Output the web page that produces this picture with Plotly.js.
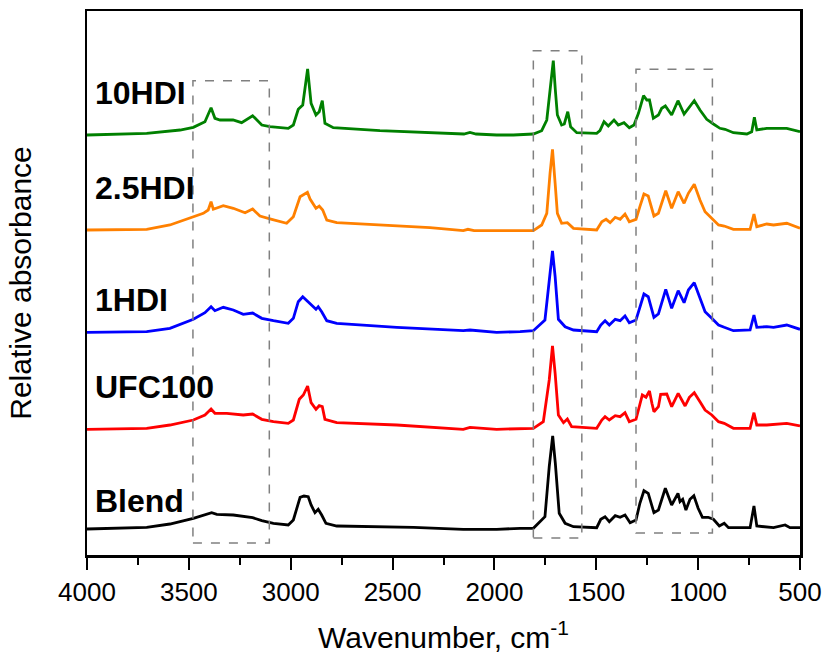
<!DOCTYPE html>
<html>
<head>
<meta charset="utf-8">
<script src="https://cdn.plot.ly/plotly-3.0.1.min.js"></script>
<style>
  html, body { margin: 0; padding: 0; background: #fff; }
  #chart { width: 825px; height: 654px; }
</style>
</head>
<body>
<div id="chart"></div>
<script>
// ---- data ----
const seriesNames = ["Blend", "UFC100", "1HDI", "2.5HDI", "10HDI"];
const offsets = [0, 1, 2, 3, 4];

const wnBlend = [4000,3707,3593,3478,3388,3363,3282,3187,3142,3085,3012,2987,2954,2935,2914,2900,2881,2865,2848,2827,2774,2397,2153,1989,1874,1809,1752,1731,1714,1701,1682,1653,1612,1498,1478,1457,1436,1407,1383,1359,1334,1305,1286,1266,1245,1217,1195,1161,1130,1099,1089,1076,1060,1040,1021,1000,979,951,925,896,872,851,745,726,712,630,573,549,500];
const absBlend = [0.26,0.277,0.31,0.367,0.423,0.407,0.40,0.373,0.343,0.317,0.30,0.35,0.577,0.59,0.583,0.50,0.423,0.457,0.40,0.317,0.29,0.277,0.257,0.257,0.267,0.267,0.383,0.883,1.19,0.917,0.417,0.317,0.283,0.273,0.357,0.383,0.333,0.393,0.377,0.40,0.323,0.35,0.517,0.643,0.617,0.423,0.45,0.667,0.50,0.617,0.533,0.557,0.45,0.557,0.593,0.467,0.377,0.377,0.357,0.29,0.317,0.273,0.273,0.49,0.29,0.273,0.30,0.273,0.273];

const wnUFC100 = [4000,3707,3593,3478,3421,3391,3372,3314,3233,3187,3142,3085,3012,2987,2958,2938,2917,2900,2876,2860,2845,2832,2774,2479,2153,2120,1989,1874,1809,1760,1731,1715,1702,1686,1661,1642,1621,1498,1473,1457,1436,1407,1383,1359,1338,1305,1286,1274,1256,1239,1227,1217,1195,1184,1154,1130,1098,1064,1043,1019,991,966,933,900,872,827,745,726,712,663,565,500];
const absUFC100 = [0.257,0.267,0.30,0.35,0.40,0.46,0.417,0.417,0.40,0.41,0.357,0.333,0.317,0.35,0.557,0.60,0.69,0.523,0.457,0.493,0.483,0.357,0.323,0.30,0.257,0.277,0.257,0.267,0.267,0.333,0.75,1.09,0.817,0.40,0.323,0.36,0.283,0.267,0.35,0.383,0.35,0.393,0.383,0.423,0.333,0.357,0.517,0.60,0.577,0.64,0.517,0.433,0.483,0.607,0.61,0.483,0.617,0.49,0.577,0.623,0.533,0.45,0.40,0.333,0.317,0.267,0.267,0.423,0.30,0.30,0.317,0.29];

const wn1HDI = [4000,3707,3593,3478,3421,3391,3372,3331,3282,3233,3187,3142,3085,3012,2987,2963,2941,2914,2889,2876,2865,2848,2823,2774,2479,2153,2120,1989,1874,1809,1752,1731,1715,1702,1686,1653,1612,1498,1478,1457,1436,1407,1383,1359,1338,1305,1286,1266,1245,1217,1195,1159,1130,1098,1069,1048,1019,991,966,933,900,872,827,745,726,712,663,630,565,500];
const abs1HDI = [0.227,0.233,0.267,0.357,0.423,0.483,0.443,0.477,0.45,0.407,0.42,0.367,0.343,0.317,0.367,0.533,0.583,0.533,0.483,0.457,0.483,0.433,0.343,0.317,0.277,0.243,0.25,0.227,0.233,0.243,0.35,0.75,1.04,0.783,0.357,0.283,0.25,0.233,0.30,0.343,0.30,0.357,0.343,0.39,0.323,0.35,0.483,0.61,0.583,0.377,0.41,0.657,0.467,0.643,0.523,0.65,0.723,0.567,0.433,0.367,0.30,0.277,0.243,0.25,0.40,0.277,0.283,0.277,0.30,0.257];

const wn25HDI = [4000,3707,3593,3478,3429,3405,3391,3380,3331,3282,3224,3187,3151,3093,3020,2987,2954,2918,2905,2876,2860,2843,2823,2774,2562,2316,2153,2130,2100,1989,1874,1809,1768,1743,1727,1715,1702,1691,1670,1642,1612,1498,1473,1452,1432,1407,1383,1359,1338,1305,1286,1266,1245,1217,1195,1159,1130,1098,1069,1048,1019,991,966,933,900,872,827,745,726,712,663,630,565,500];
const abs25HDI = [0.25,0.257,0.30,0.377,0.417,0.45,0.533,0.457,0.493,0.467,0.423,0.46,0.39,0.357,0.317,0.383,0.583,0.627,0.56,0.467,0.49,0.45,0.35,0.323,0.30,0.273,0.243,0.257,0.243,0.243,0.243,0.243,0.30,0.417,0.817,1.057,0.717,0.417,0.317,0.323,0.267,0.25,0.333,0.357,0.323,0.377,0.357,0.41,0.333,0.357,0.483,0.61,0.59,0.39,0.417,0.643,0.467,0.633,0.517,0.617,0.707,0.55,0.433,0.367,0.30,0.29,0.257,0.257,0.41,0.283,0.31,0.30,0.317,0.267];

const wn10HDI = [4000,3707,3543,3478,3421,3391,3372,3347,3283,3241,3187,3142,3102,3012,2987,2963,2941,2917,2900,2876,2860,2845,2832,2791,2562,2234,2150,2120,2090,1989,1907,1809,1768,1743,1727,1711,1701,1691,1670,1657,1640,1626,1596,1498,1482,1462,1441,1413,1392,1364,1338,1315,1293,1268,1252,1239,1220,1195,1179,1161,1130,1099,1069,1048,1019,991,958,925,893,868,827,761,737,724,712,663,565,500];
const abs10HDI = [0.20,0.217,0.25,0.277,0.333,0.473,0.367,0.35,0.35,0.323,0.393,0.30,0.283,0.267,0.30,0.457,0.50,0.86,0.517,0.40,0.433,0.543,0.317,0.273,0.243,0.217,0.21,0.225,0.21,0.20,0.20,0.21,0.243,0.35,0.683,0.943,0.65,0.40,0.30,0.31,0.433,0.283,0.223,0.217,0.243,0.333,0.29,0.35,0.30,0.323,0.273,0.30,0.417,0.593,0.55,0.55,0.367,0.40,0.467,0.49,0.40,0.543,0.41,0.467,0.543,0.45,0.357,0.31,0.267,0.257,0.223,0.21,0.233,0.377,0.25,0.267,0.267,0.233];

// highlighted regions: [wnStart, wnEnd, yBottom, yTop]
const boxes = [[3480, 3105, 0.12, 4.743], [1809, 1571, 0.17, 5.043], [1305, 930, 0.22, 4.857]];
const xTickVals = [4000, 3500, 3000, 2500, 2000, 1500, 1000, 500];

// ---- build chart ----
const wnAll = [wnBlend, wnUFC100, wn1HDI, wn25HDI, wn10HDI];
const absAll = [absBlend, absUFC100, abs1HDI, abs25HDI, abs10HDI];
const colors = ["#000000", "#ff0000", "#0000ff", "#ff8000", "#008000"];
const labelY = [0.54, 1.68, 2.55, 3.67, 4.62];

const traces = seriesNames.map((name, i) => ({
  type: "scatter",
  mode: "lines",
  name: name,
  x: wnAll[i],
  y: absAll[i].map(v => v + offsets[i]),
  line: { color: colors[i], width: 2.8 },
  showlegend: false,
  hoverinfo: "x+name"
}));

const FONT = "Liberation Sans, Arial, Helvetica, sans-serif";

const shapes = boxes.map(b => ({
  type: "rect", xref: "x", yref: "y",
  x0: b[0], x1: b[1], y0: b[2], y1: b[3],
  line: { color: "#808080", width: 1.5, dash: "dash" },
  fillcolor: "rgba(0,0,0,0)"
}));

const annotations = seriesNames.map((name, i) => ({
  xref: "x", yref: "y",
  x: 3972, y: labelY[i],
  xanchor: "left", yanchor: "middle",
  text: "<b>" + name + "</b>",
  showarrow: false,
  font: { family: FONT, size: 32, color: "#000" }
}));

const layout = {
  width: 825, height: 654,
  margin: { l: 87, r: 25, t: 11, b: 99 },
  paper_bgcolor: "#fff", plot_bgcolor: "#fff",
  font: { family: FONT, color: "#000" },
  xaxis: {
    range: [4000, 500],
    tickvals: xTickVals,
    ticktext: xTickVals.map(String),
    ticks: "outside", ticklen: 12, tickwidth: 2, tickcolor: "#000",
    minor: { dtick: 250, ticks: "outside", ticklen: 7, tickwidth: 2, tickcolor: "#000", showgrid: false },
    tickfont: { family: FONT, size: 26, color: "#000" },
    showline: true, linewidth: 2.5, linecolor: "#000", mirror: true,
    showgrid: false, zeroline: false,
    title: { text: "Wavenumber, cm<sup>-1</sup>", font: { family: FONT, size: 30, color: "#000" } }
  },
  yaxis: {
    range: [0, 5.44],
    showticklabels: false, ticks: "",
    showline: true, linewidth: 2.5, linecolor: "#000", mirror: true,
    showgrid: false, zeroline: false,
    title: { text: "Relative absorbance", font: { family: FONT, size: 30, color: "#000" } }
  },
  shapes: shapes,
  annotations: annotations
};

Plotly.newPlot("chart", traces, layout, { displayModeBar: false, staticPlot: true });
</script>
</body>
</html>
